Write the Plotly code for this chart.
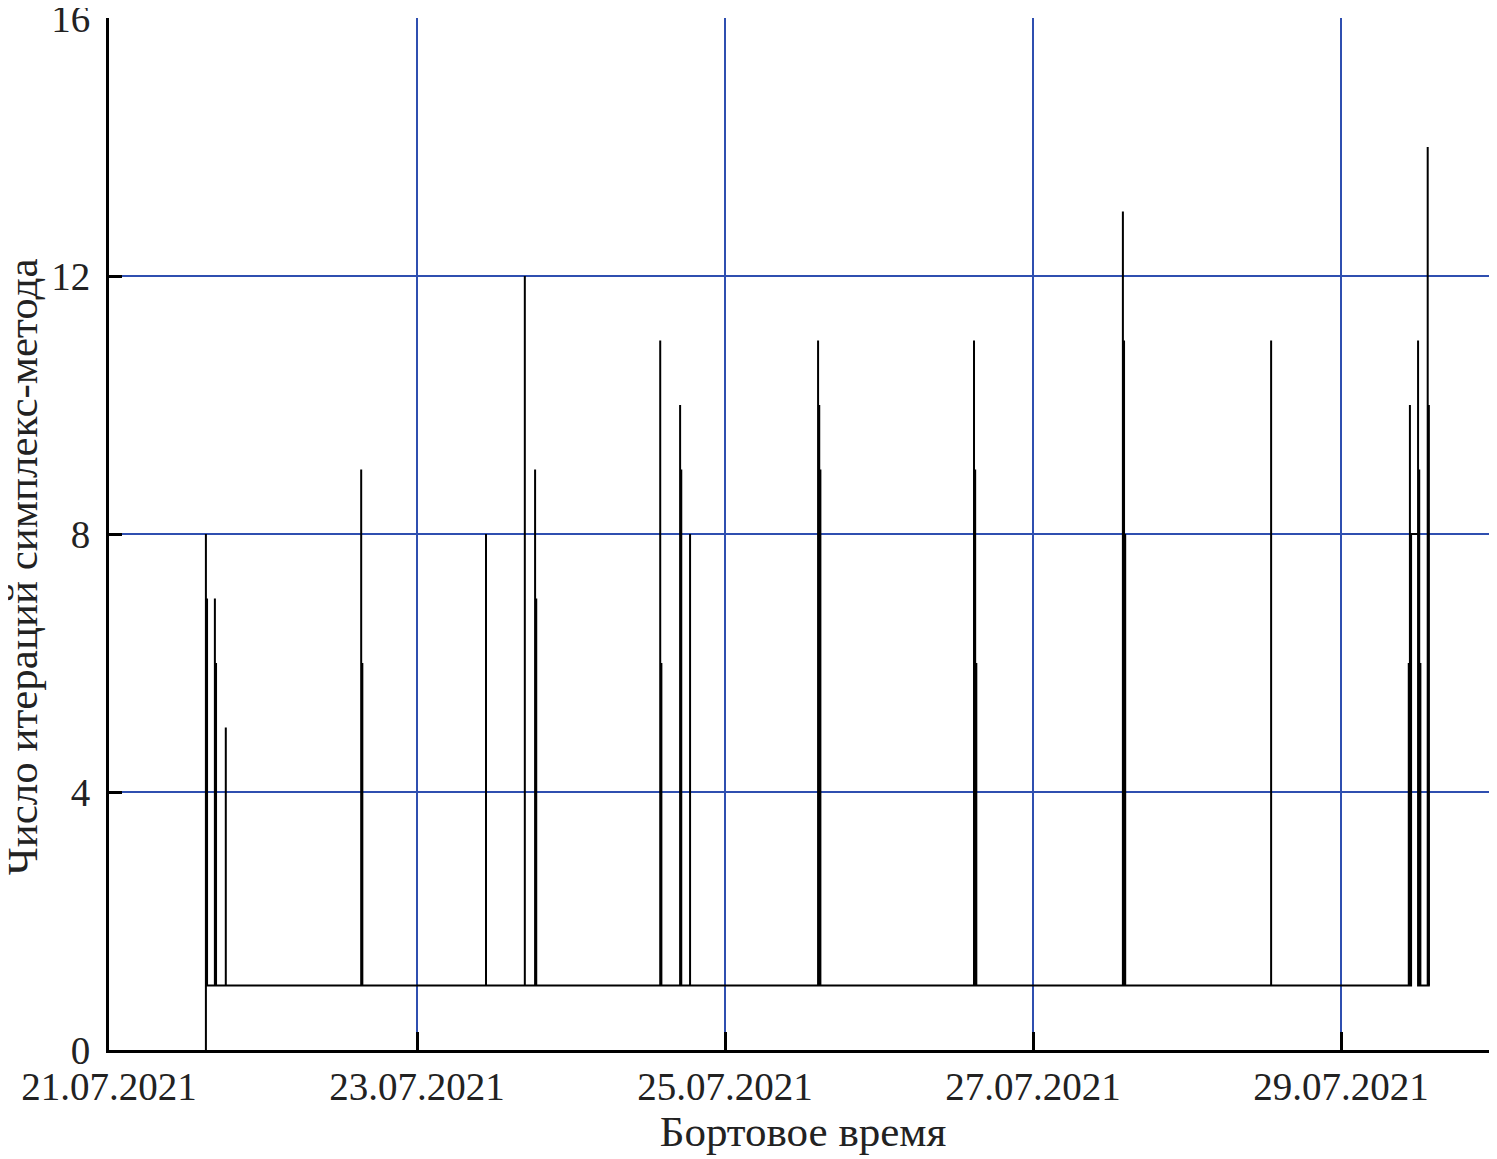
import pandas as pd
import plotly.graph_objects as go

# ---- data (hours since 21.07.2021 00:00) ----
start_hour = 15.1
start_value = 0
spike_hours = [15.1, 16.5, 18.2, 39.3, 58.75, 64.8, 66.4, 85.9, 89.0, 90.55,
               110.5, 134.8, 158.0, 181.1, 202.55, 204.0, 205.5]
spike_peaks = [[8, 7], [7, 6], [5], [9, 6], [8], [12], [9, 7], [11, 6], [10, 9], [8],
               [11, 10, 9], [11, 9, 6], [13, 11, 8], [11], [6, 10, 8], [11, 9, 6], [14, 10]]
spike_return = [1, 1, 1, 1, 1, 1, 1, 1, 1, 1, 1, 1, 1, 1, 8, 1, 1]
base_level = 1
end_hour = 205.7

x_tick_dates = ["2021-07-21", "2021-07-23", "2021-07-25", "2021-07-27", "2021-07-29"]
x_tick_labels = ["21.07.2021", "23.07.2021", "25.07.2021", "27.07.2021", "29.07.2021"]
y_tick_vals = [0, 4, 8, 12, 16]
y_grid_vals = [4, 8, 12]
x_title = "Бортовое время"
y_title = "Число итераций симплекс-метода"

# ---- build series ----
t0 = pd.Timestamp("2021-07-21 00:00")
hours = [start_hour]
vals = [start_value]
d = 0.18
level = base_level
for t, peaks, ret in zip(spike_hours, spike_peaks, spike_return):
    for j, p in enumerate(peaks):
        x = t + j * d
        back = ret if j == len(peaks) - 1 else base_level
        hours += [x, x, x]
        vals += [level, p, back]
        level = base_level
    level = ret
hours.append(end_hour)
vals.append(level)
xs = [t0 + pd.Timedelta(hours=h) for h in hours]

fig = go.Figure()
fig.add_trace(go.Scatter(x=xs, y=vals, mode="lines",
                         line=dict(color="black", width=2.0), showlegend=False))
# invisible trace for the grid axis
fig.add_trace(go.Scatter(x=[xs[0]], y=[0], yaxis="y2", mode="markers",
                         marker=dict(opacity=0), showlegend=False, hoverinfo="skip"))

font_name = "Liberation Serif"
grid_col = "#2f4fb0"
x_end = t0 + pd.Timedelta(hours=216.3)

fig.update_layout(
    width=1489, height=1151,
    margin=dict(l=101, r=0, t=10, b=109),
    paper_bgcolor="white", plot_bgcolor="white",
    font=dict(family=font_name, size=39, color="#222"),
    xaxis=dict(
        range=[t0, x_end],
        tickmode="array",
        tickvals=[pd.Timestamp(v) for v in x_tick_dates],
        ticktext=x_tick_labels,
        ticks="inside", ticklen=18, tickwidth=3, tickcolor="black",
        showline=True, linecolor="black", linewidth=3,
        showgrid=True, gridcolor=grid_col, gridwidth=1.5,
        zeroline=False, automargin=False,
        title=dict(text=x_title, standoff=8, font=dict(size=43)),
        tickfont=dict(size=39),
        ticklabeloverflow="allow",
    ),
    yaxis=dict(
        range=[0, 16],
        tickmode="array", tickvals=y_tick_vals,
        ticks="inside", ticklen=13, tickwidth=3, tickcolor="black",
        showline=True, linecolor="black", linewidth=3,
        showgrid=False, zeroline=False, automargin=False,
        tickfont=dict(size=39),
        ticklabelstandoff=8,
        ticklabeloverflow="allow",
    ),
    yaxis2=dict(
        range=[0, 16], overlaying="y", side="left",
        tickmode="array", tickvals=y_grid_vals,
        showticklabels=False, ticks="",
        showgrid=True, gridcolor=grid_col, gridwidth=1.5,
        zeroline=False, showline=False, automargin=False,
    ),
    annotations=[dict(
        text=y_title, textangle=-90, showarrow=False,
        xref="paper", yref="paper", x=-0.0625, y=0.468,
        xanchor="center", yanchor="middle",
        font=dict(family=font_name, size=43, color="#222"),
    )],
)

fig.write_html("out.html")
